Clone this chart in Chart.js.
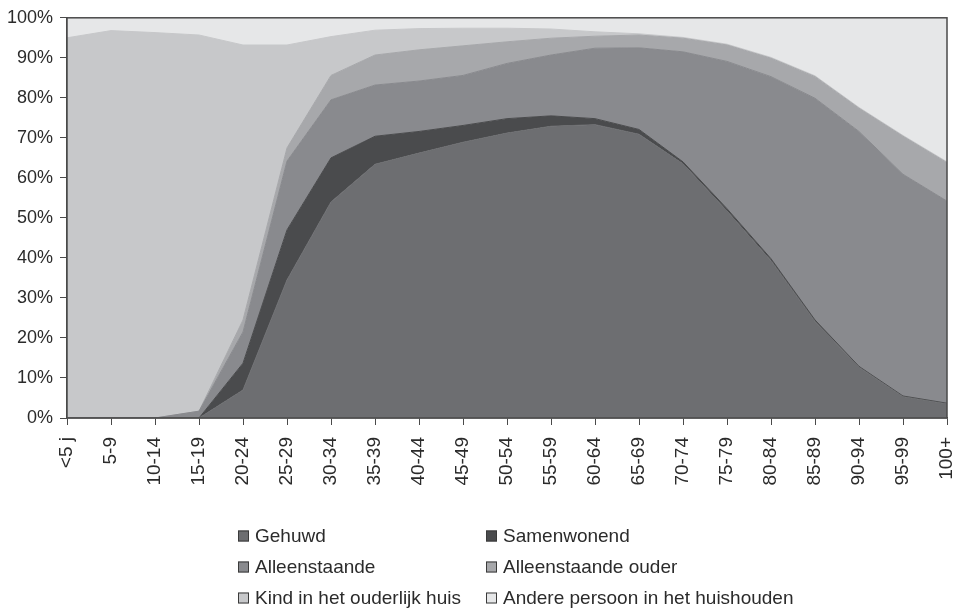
<!DOCTYPE html>
<html>
<head>
<meta charset="utf-8">
<script src="https://cdn.jsdelivr.net/npm/chart.js@4/dist/chart.umd.min.js"></script>
<style>
  html, body { margin: 0; padding: 0; background: #fff; }
  #wrap { width: 957px; height: 612px; }
</style>
</head>
<body>
<div id="wrap"><canvas id="chart" width="957" height="612"></canvas></div>
<script>
// Age groups (x categories)
var ageGroups = ["<5 j", "5-9", "10-14", "15-19", "20-24", "25-29", "30-34", "35-39",
  "40-44", "45-49", "50-54", "55-59", "60-64", "65-69", "70-74", "75-79",
  "80-84", "85-89", "90-94", "95-99", "100+"];

// Share of each household position per age group, in %
var gehuwd = [0, 0, 0, 0, 7, 34.5, 54, 63.4, 66.2, 68.9, 71.2, 72.9, 73.3, 70.9, 63.5, 51.7, 39.3, 24.1, 12.7, 5.3, 3.5];
var samenwonend = [0, 0, 0, 0, 6.7, 12.5, 11, 7, 5.4, 4.2, 3.6, 2.6, 1.5, 1.2, 0.5, 0.6, 0.5, 0.4, 0.2, 0.2, 0.2];
var alleenstaande = [0, 0, 0, 1.7, 7.8, 17.2, 14.5, 12.8, 12.6, 12.5, 13.8, 15.2, 17.6, 20.4, 27.5, 36.8, 45.5, 55.4, 58.7, 55.4, 50.5];
var alleenstaandeOuder = [0, 0, 0, 0, 3, 3.3, 6.1, 7.5, 7.8, 7.4, 5.4, 4.2, 3, 3.2, 3.4, 4.1, 4.6, 5.4, 5.8, 9.5, 9.6];
var kindOuderlijkHuis = [95, 96.8, 96.3, 94, 68.7, 25.7, 9.7, 6.2, 5.3, 4.4, 3.4, 2.3, 1.1, 0.3, 0.2, 0.2, 0.2, 0.2, 0.2, 0.2, 0.2];
var anderePersoon = [5, 3.2, 3.7, 4.3, 6.8, 6.8, 4.7, 3.1, 2.7, 2.6, 2.6, 2.8, 3.5, 4, 4.9, 6.6, 9.9, 14.5, 22.4, 29.4, 36];

// Y axis ticks
var yTicks = [0, 10, 20, 30, 40, 50, 60, 70, 80, 90, 100];

var FONT = "'Liberation Sans', Arial, sans-serif";
var TEXT = "#2b2b2b";
var AXIS = "#4a4a4a";

function series(label, data, color, first) {
  return {
    label: label,
    data: data,
    backgroundColor: color,
    borderColor: color,
    borderWidth: 1,
    pointRadius: 0,
    tension: 0,
    fill: first ? "origin" : "-1",
  };
}

/**
 * Frame round the plot area and a two column legend below the axis.
 */
var framePlugin = {
  id: "frame",
  afterDraw: function (chart) {
    var ctx = chart.ctx;
    var a = chart.chartArea;
    ctx.save();
    ctx.strokeStyle = AXIS;
    ctx.lineWidth = 1.5;
    ctx.strokeRect(a.left, a.top, a.right - a.left, a.bottom - a.top);

    var cols = [238, 486];
    var rows = [536, 567, 598];
    ctx.font = "19px " + FONT;
    ctx.textBaseline = "middle";
    ctx.textAlign = "left";
    chart.data.datasets.forEach(function (ds, i) {
      var x = cols[i % 2];
      var y = rows[Math.floor(i / 2)];
      ctx.fillStyle = ds.backgroundColor;
      ctx.fillRect(x, y - 5.5, 11, 11);
      ctx.lineWidth = 1;
      ctx.strokeStyle = "#3a3a3a";
      ctx.strokeRect(x + 0.5, y - 5, 10, 10);
      ctx.fillStyle = TEXT;
      ctx.fillText(ds.label, x + 17, y + 1);
    });
    ctx.restore();
  },
};

new Chart(document.getElementById("chart"), {
  type: "line",
  data: {
    labels: ageGroups,
    datasets: [
      series("Gehuwd", gehuwd, "#6d6e71", true),
      series("Samenwonend", samenwonend, "#4a4b4d"),
      series("Alleenstaande", alleenstaande, "#898a8e"),
      series("Alleenstaande ouder", alleenstaandeOuder, "#a7a8ab"),
      series("Kind in het ouderlijk huis", kindOuderlijkHuis, "#c7c8ca"),
      series("Andere persoon in het huishouden", anderePersoon, "#e6e7e8"),
    ],
  },
  options: {
    responsive: false,
    animation: false,
    devicePixelRatio: 1,
    layout: { padding: { left: 0, top: 16, right: 10, bottom: 94 } },
    plugins: {
      legend: { display: false },
      tooltip: { enabled: false },
    },
    scales: {
      x: {
        offset: false,
        grid: { drawOnChartArea: false, drawTicks: true, tickLength: 7, color: AXIS },
        border: { color: AXIS, width: 1.5 },
        ticks: {
          autoSkip: false,
          maxRotation: 90,
          minRotation: 90,
          padding: 12,
          color: TEXT,
          font: { family: FONT, size: 19 },
        },
        afterFit: function (scale) {
          scale.height = 100;
          scale.paddingLeft = 0;
          scale.paddingRight = 0;
        },
      },
      y: {
        stacked: true,
        min: 0,
        max: 100,
        afterBuildTicks: function (scale) {
          scale.ticks = yTicks.map(function (v) { return { value: v }; });
        },
        grid: { drawOnChartArea: false, drawTicks: true, tickLength: 7, color: AXIS },
        border: { color: AXIS, width: 1.5 },
        ticks: {
          padding: 7,
          color: TEXT,
          font: { family: FONT, size: 18 },
          callback: function (v) { return v + "%"; },
        },
        afterFit: function (scale) {
          scale.width = 67;
        },
      },
    },
  },
  plugins: [framePlugin],
});
</script>
</body>
</html>
